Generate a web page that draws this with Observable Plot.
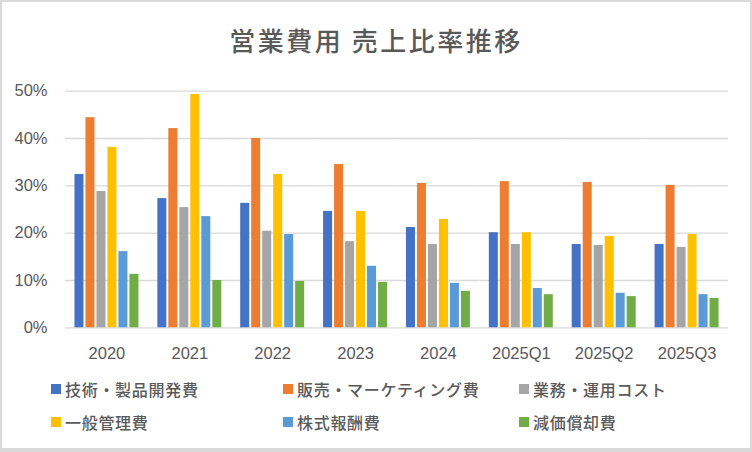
<!DOCTYPE html>
<html><head><meta charset="utf-8">
<script src="https://cdn.jsdelivr.net/npm/d3@7"></script>
<script src="https://cdn.jsdelivr.net/npm/@observablehq/plot@0.6"></script>
<style>
body{margin:0;background:#fff;}
#c{position:relative;width:752px;height:452px;overflow:hidden;background:#fff;font-family:"Noto Sans CJK JP",sans-serif;color:#595959;}
#frame{position:absolute;left:0;top:0;width:752px;height:452px;box-sizing:border-box;border:2px solid #d9d9d9;border-bottom-width:4px;pointer-events:none;}
#title{position:absolute;left:0;top:24px;width:752px;height:32px;line-height:32px;text-align:center;font-size:26px;font-weight:500;letter-spacing:2.5px;color:#595959;}
#chart{position:absolute;left:0;top:0;}
.lg{position:absolute;height:20px;line-height:20px;font-size:16px;font-weight:500;letter-spacing:0.7px;color:#595959;white-space:nowrap;}
.sw{position:absolute;left:0;top:5px;width:10px;height:10px;}
.lt{position:absolute;left:14px;top:0;}
</style></head><body>
<div id="c"><div id="chart"></div><div id="title"></div><div id="legend"></div><div id="frame"></div></div>
<script>
const titleText = "営業費用 売上比率推移";
const categories = ["2020","2021","2022","2023","2024","2025Q1","2025Q2","2025Q3"];
const seriesNames = ["技術・製品開発費","販売・マーケティング費","業務・運用コスト","一般管理費","株式報酬費","減価償却費"];
const techDev        = [32.4, 27.3, 26.3, 24.6, 21.2, 20.1, 17.6, 17.6];
const salesMarketing = [44.4, 42.1, 40.0, 34.5, 30.5, 30.9, 30.7, 30.1];
const operations     = [28.8, 25.4, 20.4, 18.2, 17.6, 17.6, 17.4, 17.0];
const generalAdmin   = [38.1, 49.3, 32.4, 24.6, 22.9, 20.1, 19.3, 19.7];
const stockComp      = [16.1, 23.5, 19.7, 13.0, 9.4, 8.3, 7.3, 7.0];
const depreciation   = [11.3, 10.0, 9.8, 9.6, 7.7, 7.0, 6.6, 6.2];
const yTicks = [0, 10, 20, 30, 40, 50];
const colors = ["#4472C4","#ED7D31","#A5A5A5","#FFC000","#5B9BD5","#70AD47"];

const seriesValues = [techDev, salesMarketing, operations, generalAdmin, stockComp, depreciation];
const data = [];
categories.forEach((cat, i) => {
  seriesNames.forEach((s, j) => data.push({cat, series: s, value: seriesValues[j][i]}));
});

document.getElementById("title").textContent = titleText;

const chart = Plot.plot({
  width: 752, height: 370,
  marginTop: 90.7, marginBottom: 42.7, marginLeft: 65, marginRight: 24,
  style: {fontFamily: "'Liberation Sans', sans-serif", fontSize: "16px", color: "#595959", background: "transparent", overflow: "visible"},
  fx: {domain: categories, padding: 0, round: false, label: null},
  x: {domain: seriesNames, paddingInner: 0.18, paddingOuter: 0.86, round: false, axis: null},
  y: {domain: [0, 50], label: null},
  color: {domain: seriesNames, range: colors},
  marks: [
    Plot.gridY(yTicks, {stroke: "#d9d9d9", strokeOpacity: 1, strokeWidth: 1.3}),
    Plot.axisY(yTicks, {tickSize: 0, tickPadding: 18, tickFormat: d => d + "%", label: null, fontSize: 16.5, fill: "#595959"}),
    Plot.axisFx({anchor: "bottom", tickSize: 0, tickPadding: 19, label: null, fontSize: 16.5, fill: "#595959"}),
    Plot.barY(data, {fx: "cat", x: "series", y: "value", fill: "series"})
  ]
});
document.getElementById("chart").appendChild(chart);

const legend = document.getElementById("legend");
const colX = [51, 283, 519];
const rowY = [379, 412];
seriesNames.forEach((s, i) => {
  const d = document.createElement("div");
  d.className = "lg";
  d.style.left = colX[i % 3] + "px";
  d.style.top = rowY[Math.floor(i / 3)] + "px";
  const sw = document.createElement("div");
  sw.className = "sw";
  sw.style.background = colors[i];
  const t = document.createElement("div");
  t.className = "lt";
  t.textContent = s;
  d.appendChild(sw); d.appendChild(t);
  legend.appendChild(d);
});
</script>
</body></html>
